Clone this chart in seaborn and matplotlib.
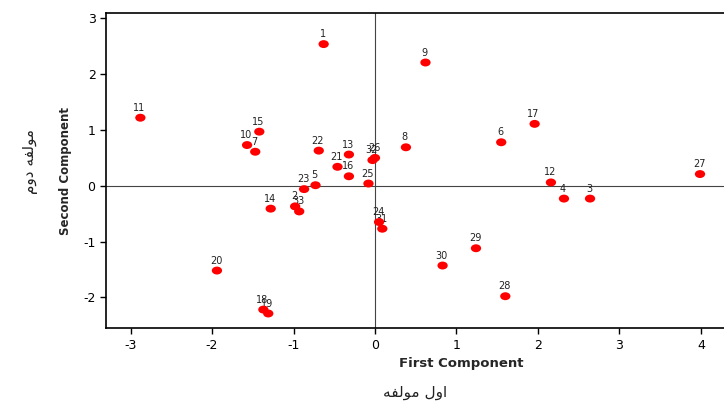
import numpy as np
import pandas as pd
import matplotlib
matplotlib.use("Agg")
import matplotlib.pyplot as plt
import seaborn as sns
from matplotlib.path import Path
from matplotlib.transforms import Affine2D

# point labels and PCA scores
labels = [str(i) for i in range(1, 34)]
first_comp = [-0.63, -0.98, 2.64, 2.32, -0.73, 1.55, -1.47, 0.38, 0.62, -1.57,
              -2.88, 2.16, -0.32, -1.28, -1.42, -0.32, 1.96, -1.37, -1.31, -1.94,
              -0.46, -0.69, -0.87, 0.05, -0.08, 0.00, 3.99, 1.60, 1.24, 0.83,
              0.09, -0.03, -0.93]
second_comp = [2.54, -0.37, -0.23, -0.23, 0.01, 0.78, 0.61, 0.69, 2.21, 0.73,
               1.22, 0.06, 0.56, -0.41, 0.97, 0.17, 1.11, -2.22, -2.29, -1.52,
               0.34, 0.63, -0.06, -0.65, 0.04, 0.50, 0.21, -1.98, -1.12, -1.43,
               -0.77, 0.46, -0.46]

x_ticks = [-3, -2, -1, 0, 1, 2, 3, 4]
y_ticks = [-2, -1, 0, 1, 2, 3]

# Persian axis titles ("مولفه اول", "مولفه دوم") in presentation forms, as drawn
fa_x_title = "\uFEEA\uFED4\uFEDF\uFEEE\uFEE3 \uFEDD\uFEED\uFE8D"
fa_y_title = "\uFEE1\uFEED\uFEA9 \uFEEA\uFED4\uFEDF\uFEEE\uFEE3"

df = pd.DataFrame({"label": labels, "first": first_comp, "second": second_comp})

sns.set_style("white")
plt.rcParams["font.family"] = ["DejaVu Sans"]
plt.rcParams["axes.unicode_minus"] = False

fig = plt.figure(figsize=(7.24, 4.03), dpi=100)
ax = fig.add_axes([0.1464, 0.1854, 0.98, 0.7813])

ellipse = Path.unit_circle().transformed(Affine2D().scale(1.3, 1.0))
sns.scatterplot(data=df, x="first", y="second", ax=ax, color="#ff0000",
                marker=ellipse, s=55, edgecolor="none", zorder=3, legend=False)

for _, r in df.iterrows():
    ax.annotate(r["label"], (r["first"], r["second"]), xytext=(-1, 5),
                textcoords="offset pixels", ha="center", va="bottom",
                fontsize=7, color="#222222", zorder=2)

ax.axhline(0, color="#444444", lw=0.8, zorder=1)
ax.axvline(0, color="#444444", lw=0.8, zorder=1)

ax.set_xlim(-3.302, 5.408)
ax.set_ylim(-2.555, 3.09)
ax.set_xticks(x_ticks)
ax.set_yticks(y_ticks)
ax.tick_params(direction="out", length=4, width=1, labelsize=9, colors="black",
               bottom=True, left=True)
for side in ["left", "bottom", "top"]:
    ax.spines[side].set_color("black")
    ax.spines[side].set_linewidth(1.2)
ax.spines["right"].set_visible(False)

ax.set_xlabel("First Component", fontsize=9.5, fontweight="bold", labelpad=4)
ax.set_ylabel("Second Component", fontsize=8.5, fontweight="bold", labelpad=8)

fig.text(415 / 724, 1 - 393 / 403, fa_x_title, ha="center", va="center",
         fontsize=11, color="#222222")
fig.text(30 / 724, 1 - 162 / 403, fa_y_title, ha="center", va="center",
         rotation=90, fontsize=11, color="#222222")

fig.savefig("out.png", dpi=100)
